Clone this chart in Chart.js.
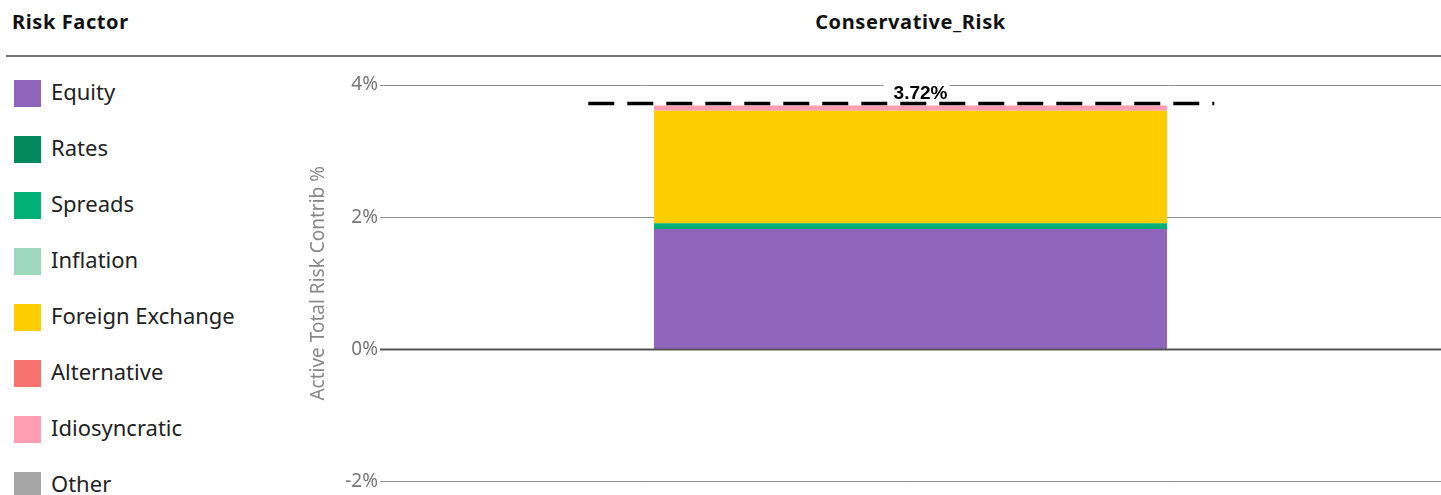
<!DOCTYPE html>
<html>
<head>
<meta charset="utf-8">
<script src="https://cdn.jsdelivr.net/npm/chart.js@4.4.1/dist/chart.umd.min.js"></script>
<style>
  html, body { margin: 0; padding: 0; background: #fff; }
  body { width: 1441px; height: 495px; position: relative; overflow: hidden; font-family: "Noto Sans", sans-serif; }
  .hdr { position: absolute; top: 8px; font-weight: bold; font-size: 20px; letter-spacing: 0.6px; color: #111; }
  #hdr-left { left: 12px; }
  #hdr-title { left: 380px; width: 1061px; text-align: center; }
  #rule { position: absolute; left: 6px; right: 0; top: 55px; height: 0; border-top: 2px solid #777; }
  #legend { position: absolute; left: 14px; top: 80px; }
  .item { position: absolute; left: 0; height: 27px; white-space: nowrap; }
  .item span.sw { position: absolute; left: 0; top: 0; width: 27px; height: 27px; }
  .item span.lb { position: absolute; left: 37px; top: -2px; font-size: 22px; line-height: 27px; color: #222; }
  #wrap { position: absolute; left: 307px; top: 60px; width: 1134px; height: 435px; }
</style>
</head>
<body>
<div class="hdr" id="hdr-left">Risk Factor</div>
<div class="hdr" id="hdr-title"></div>
<div id="rule"></div>
<div id="legend"></div>
<div id="wrap"><canvas id="chart"></canvas></div>
<script>
// portfolios on the x axis
const categories = ['Conservative_Risk'];

// risk factors, legend order
const factors = ['Equity', 'Rates', 'Spreads', 'Inflation', 'Foreign Exchange', 'Alternative', 'Idiosyncratic', 'Other'];
const factorColors = ['#8e65bb', '#028a5c', '#00b074', '#9dd8be', '#fdcd00', '#f77370', '#ff9db3', '#a6a6a6'];

// active total risk contribution, % (one value per portfolio)
const equityValues = [1.82];
const ratesValues = [0];
const spreadsValues = [0.09];
const inflationValues = [0];
const fxValues = [1.70];
const alternativeValues = [0];
const idiosyncraticValues = [0.08];
const otherValues = [0];

// total active risk marker
const totalValues = [3.72];

// y axis
const yTicks = [-2, 0, 2, 4];
const yTitle = 'Active Total Risk Contrib %';

const seriesValues = [equityValues, ratesValues, spreadsValues, inflationValues, fxValues, alternativeValues, idiosyncraticValues, otherValues];

document.getElementById('hdr-title').textContent = categories[0];

// html legend
const legend = document.getElementById('legend');
factors.forEach((name, i) => {
  const item = document.createElement('div');
  item.className = 'item';
  item.style.top = (i * 56) + 'px';
  item.innerHTML = '<span class="sw" style="background:' + factorColors[i] + '"></span><span class="lb">' + name + '</span>';
  legend.appendChild(item);
});

// zero line drawn over the bars
const zeroLine = {
  id: 'zeroLine',
  afterDatasetsDraw(chart) {
    const { ctx, chartArea, scales } = chart;
    const y = scales.y.getPixelForValue(0);
    ctx.save();
    ctx.strokeStyle = '#555';
    ctx.lineWidth = 2;
    ctx.beginPath();
    ctx.moveTo(chartArea.left, y);
    ctx.lineTo(chartArea.right, y);
    ctx.stroke();
    ctx.restore();
  }
};

// dashed total line with label
const totalLine = {
  id: 'totalLine',
  afterDatasetsDraw(chart) {
    const { ctx, scales } = chart;
    const meta = chart.getDatasetMeta(0);
    totalValues.forEach((total, i) => {
      const bar = meta.data[i];
      if (!bar) return;
      const y = scales.y.getPixelForValue(total);
      const x1 = bar.x - bar.width * 0.628;
      const x2 = bar.x + bar.width * 0.592;
      const label = total.toFixed(2) + '%';
      ctx.save();
      ctx.font = 'bold 19px "Liberation Sans", Arial, sans-serif';
      const tw = ctx.measureText(label).width;
      const tx = bar.x + 10;
      const base = y - 5;
      ctx.fillStyle = '#fff';
      ctx.fillRect(tx - tw / 2 - 10, base - 19, tw + 12, 20);
      ctx.fillStyle = '#000';
      ctx.textAlign = 'center';
      ctx.textBaseline = 'alphabetic';
      ctx.fillText(label, tx, base);
      ctx.strokeStyle = '#000';
      ctx.lineWidth = 3.5;
      ctx.setLineDash([26, 13]);
      ctx.beginPath();
      ctx.moveTo(x1, y);
      ctx.lineTo(x2, y);
      ctx.stroke();
      ctx.restore();
    });
  }
};

new Chart(document.getElementById('chart'), {
  type: 'bar',
  data: {
    labels: categories,
    datasets: factors.map((name, i) => ({
      label: name,
      data: seriesValues[i],
      backgroundColor: factorColors[i],
      borderWidth: 0,
      categoryPercentage: 0.6,
      barPercentage: 0.806,
    })),
  },
  options: {
    responsive: true,
    maintainAspectRatio: false,
    animation: false,
    layout: { padding: { top: 25, bottom: 13, left: 0, right: 0 } },
    plugins: {
      legend: { display: false },
      tooltip: { enabled: false },
    },
    scales: {
      x: {
        stacked: true,
        display: false,
      },
      y: {
        stacked: true,
        min: yTicks[0],
        max: yTicks[yTicks.length - 1],
        afterBuildTicks: scale => { scale.ticks = yTicks.map(v => ({ value: v })); },
        afterFit: scale => { scale.width = 73; },
        border: { display: false },
        grid: {
          drawTicks: false,
          color: ctx => ctx.tick && ctx.tick.value === 0 ? 'rgba(0,0,0,0)' : '#8f8f8f',
          lineWidth: 1,
        },
        ticks: {
          padding: 2,
          color: '#777',
          font: { family: '"Noto Sans", sans-serif', size: 19 },
          callback: v => v + '%',
        },
        title: {
          display: true,
          text: yTitle,
          color: '#888',
          font: { family: '"Noto Sans", sans-serif', size: 19 },
          padding: 0,
        },
      },
    },
  },
  plugins: [zeroLine, totalLine],
});
</script>
</body>
</html>
